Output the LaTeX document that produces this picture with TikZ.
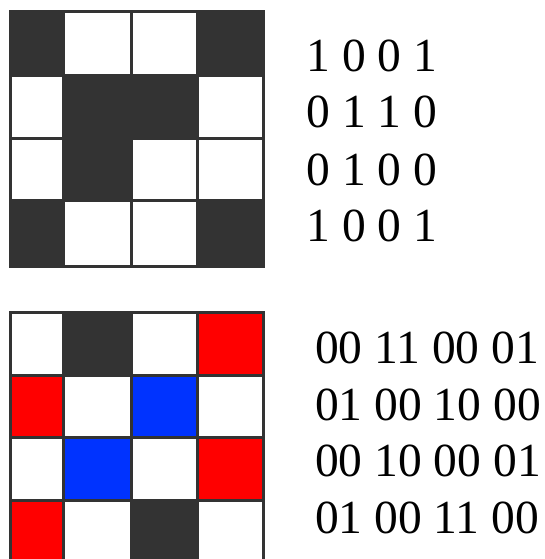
\documentclass[tikz,border=0pt]{standalone}
\usepackage{fontspec}
\setmainfont{Liberation Serif}
\definecolor{cdark}{RGB}{51,51,51}
\definecolor{cred}{RGB}{255,0,0}
\definecolor{cblue}{RGB}{0,51,255}
\begin{document}
\begin{tikzpicture}[x=1pt,y=-1pt,
  gridline/.style={draw=cdark,line width=3pt},
  code/.style={anchor=base west,inner sep=0pt,font=\fontsize{47.5}{57}\selectfont}]
\useasboundingbox (0,0) rectangle (545,559);
\clip (0,0) rectangle (545,559);
% ---- top grid ----
\fill[white] (10,12) rectangle (263,266);
\foreach \xa/\xb/\ya/\yb in {10/63/12/76, 197/263/12/76, 63/131/76/138, 131/197/76/138, 63/131/138/200, 10/63/200/266, 197/263/200/266}
  \fill[cdark] (\xa,\ya) rectangle (\xb,\yb);
\draw[gridline] (10,12) rectangle (263,266);
\foreach \x in {63,131,197} \draw[gridline] (\x,12) -- (\x,266);
\foreach \y in {76,138,200} \draw[gridline] (10,\y) -- (263,\y);
% ---- bottom grid ----
\fill[white] (10,312.5) rectangle (263,563);
\foreach \xa/\xb/\ya/\yb/\col in {63/131/312.5/375/cdark, 131/197/500/563/cdark,
  197/263/312.5/375/cred, 10/63/375/437.5/cred, 197/263/437.5/500/cred, 10/63/500/563/cred,
  131/197/375/437.5/cblue, 63/131/437.5/500/cblue}
  \fill[\col] (\xa,\ya) rectangle (\xb,\yb);
\draw[gridline] (10,312.5) rectangle (263,563);
\foreach \x in {63,131,197} \draw[gridline] (\x,312.5) -- (\x,563);
\foreach \y in {375,437.5,500} \draw[gridline] (10,\y) -- (263,\y);
% ---- codes ----
\node[code] (t1) at (306.5,71.7) {1 0 0 1};
\node[code] (t2) at (306.5,128) {0 1 1 0};
\node[code] (t3) at (306.5,185) {0 1 0 0};
\node[code] (t4) at (306.5,241.7) {1 0 0 1};
\node[code] (b1) at (315,363.3) {00 11 00 01};
\node[code] (b2) at (315,420) {01 00 10 00};
\node[code] (b3) at (315,476.7) {00 10 00 01};
\node[code] (b4) at (315,533.3) {01 00 11 00};
\end{tikzpicture}
\end{document}
